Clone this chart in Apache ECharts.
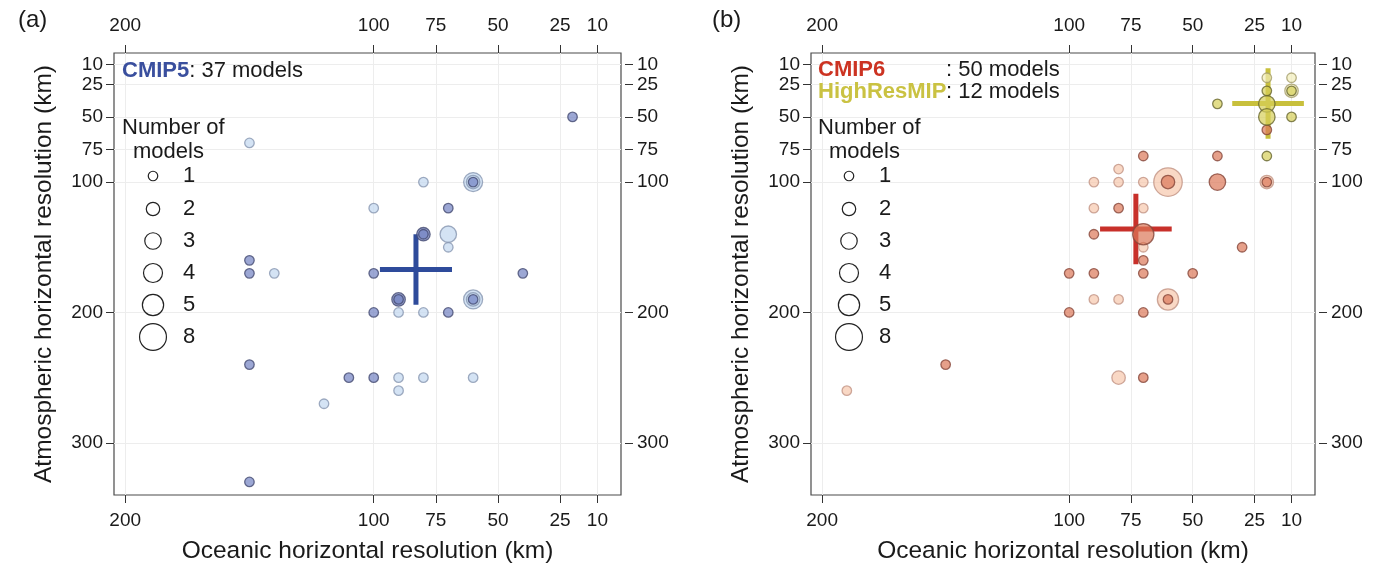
<!DOCTYPE html>
<html>
<head>
<meta charset="utf-8">
<script src="https://cdn.jsdelivr.net/npm/echarts@6/dist/echarts.min.js"></script>
<style>
  html, body { margin: 0; padding: 0; background: #fff; }
  #chart { width: 1389px; height: 565px; }
</style>
</head>
<body>
<div id="chart"></div>
<script>
// tick values (km)
const oceanTicks = [200, 100, 75, 50, 25, 10]
const atmosTicks = [10, 25, 50, 75, 100, 200, 300]

// [ocean km, atmos km, number of models]
const cmip5Light = [
  [150, 70, 1], [80, 100, 1], [60, 100, 4], [60, 100, 2], [100, 120, 1], [70, 140, 3],
  [70, 150, 1], [140, 170, 1], [60, 190, 4], [60, 190, 2], [90, 200, 1], [80, 200, 1],
  [90, 250, 1], [80, 250, 1], [60, 250, 1], [90, 260, 1], [120, 270, 1]
]
const cmip5Dark = [
  [20, 50, 1], [60, 100, 1], [70, 120, 1], [80, 140, 2], [80, 140, 1], [150, 160, 1],
  [150, 170, 1], [100, 170, 1], [40, 170, 1], [90, 190, 2], [90, 190, 1], [60, 190, 1],
  [100, 200, 1], [70, 200, 1], [150, 240, 1], [110, 250, 1], [100, 250, 1], [150, 330, 1]
]
const cmip6Light = [
  [80, 90, 1], [90, 100, 1], [80, 100, 1], [70, 100, 1], [60, 100, 9], [90, 120, 1],
  [70, 120, 1], [70, 150, 1], [90, 190, 1], [80, 190, 1], [60, 190, 5], [190, 260, 1],
  [80, 250, 2], [20, 100, 2]
]
const cmip6Dark = [
  [70, 80, 1], [40, 80, 1], [60, 100, 2], [40, 100, 3], [80, 120, 1], [90, 140, 1],
  [70, 140, 5], [70, 160, 1], [30, 150, 1], [100, 170, 1], [90, 170, 1], [70, 170, 1],
  [50, 170, 1], [60, 190, 1], [100, 200, 1], [70, 200, 1], [150, 240, 1], [70, 250, 1],
  [20, 60, 1], [20, 100, 1]
]
const hrmipYellow = [
  [20, 30, 1], [40, 40, 1], [20, 40, 3], [20, 50, 3], [10, 50, 1], [20, 80, 1], [10, 30, 1]
]
const hrmipPale = [[20, 20, 1], [10, 20, 1], [10, 30, 2]]

// ensemble centre and cross half-lengths [ocean, atmos]
const cmip5Centre = [83, 167]
const cmip6Centre = [73, 136]
const hrmipCentre = [19.5, 39.7]
const crossHalf = [14.5, 27]

const legendCounts = [1, 2, 3, 4, 5, 8]

const symSize = n => 9.5 * Math.sqrt(n)

const myChart = echarts.init(document.getElementById('chart'))

const FONT = '"Liberation Sans", Arial, sans-serif'
const grids = [
  { left: 114, top: 53, width: 507, height: 442 },
  { left: 811, top: 53, width: 504, height: 442 }
]

const xAxes = []
const yAxes = []
grids.forEach((g, i) => {
  const base = {
    type: 'value', gridIndex: i, inverse: true, min: 0.5, max: 204.5,
    axisLine: { show: false },
    axisTick: { show: true, customValues: oceanTicks, length: 8, lineStyle: { color: '#333', width: 1 } },
    axisLabel: { customValues: oceanTicks, fontSize: 19, color: '#1a1a1a', fontFamily: FONT }
  }
  xAxes.push(Object.assign({}, base, {
    position: 'bottom',
    axisLabel: Object.assign({}, base.axisLabel, { margin: 16 }),
    splitLine: { show: true, lineStyle: { color: '#ededed', width: 1 } },
    name: 'Oceanic horizontal resolution (km)',
    nameLocation: 'middle',
    nameGap: 44,
    nameTextStyle: { fontSize: 24.5, color: '#1a1a1a', fontFamily: FONT }
  }))
  xAxes.push(Object.assign({}, base, {
    position: 'top',
    axisLabel: Object.assign({}, base.axisLabel, { margin: 18 }),
    splitLine: { show: false }
  }))
  const ybase = {
    type: 'value', gridIndex: i, inverse: true, min: 1, max: 340,
    axisLine: { show: false },
    axisTick: { show: true, customValues: atmosTicks, length: 8, lineStyle: { color: '#333', width: 1 } },
    axisLabel: { customValues: atmosTicks, fontSize: 19, color: '#1a1a1a', fontFamily: FONT }
  }
  yAxes.push(Object.assign({}, ybase, {
    position: 'left',
    axisLabel: Object.assign({}, ybase.axisLabel, { margin: 11 }),
    splitLine: { show: true, lineStyle: { color: '#ededed', width: 1 } },
    name: 'Atmospheric horizontal resolution (km)',
    nameLocation: 'middle',
    nameGap: 57,
    nameTextStyle: { fontSize: 24.5, color: '#1a1a1a', fontFamily: FONT }
  }))
  yAxes.push(Object.assign({}, ybase, {
    position: 'right', offset: 4,
    axisLabel: Object.assign({}, ybase.axisLabel, { margin: 12 }),
    splitLine: { show: false }
  }))
})

function bubbles(data, gi, fill, border) {
  return {
    type: 'scatter',
    xAxisIndex: gi * 2,
    yAxisIndex: gi * 2,
    z: 3,
    data: data.slice().sort((a, b) => b[2] - a[2]),
    symbolSize: v => symSize(v[2]),
    itemStyle: { color: fill, borderColor: border, borderWidth: 1.3 },
    emphasis: { disabled: true }
  }
}

function cross(c, gi, color) {
  const seg = (d) => ({
    type: 'line', xAxisIndex: gi * 2, yAxisIndex: gi * 2, z: 2,
    data: d, symbol: 'none', silent: true,
    lineStyle: { color: color, width: 5, cap: 'butt' }
  })
  return [
    seg([[c[0] + crossHalf[0], c[1]], [c[0] - crossHalf[0], c[1]]]),
    seg([[c[0], c[1] - crossHalf[1]], [c[0], c[1] + crossHalf[1]]])
  ]
}

function sizeLegend(left, top) {
  const f = '22px ' + FONT
  const children = [
    { type: 'text', x: 0, y: 0, z: 100, style: { text: 'Number of', font: f, fill: '#1a1a1a' } },
    { type: 'text', x: 11, y: 24, z: 100, style: { text: 'models', font: f, fill: '#1a1a1a' } }
  ]
  const rowY = [59, 92, 124, 156, 188, 220]
  legendCounts.forEach((n, k) => {
    children.push({
      type: 'circle', z: 100,
      shape: { cx: 31, cy: rowY[k], r: symSize(n) / 2 },
      style: { fill: 'none', stroke: '#222', lineWidth: 1.2 }
    })
    children.push({
      type: 'text', x: 61, y: rowY[k], z: 100,
      style: { text: String(n), font: f, fill: '#1a1a1a', verticalAlign: 'middle' }
    })
  })
  return { type: 'group', x: left, y: top, z: 100, children: children }
}

const f22 = '22px ' + FONT
const b22 = 'bold 22px ' + FONT
const option = {
  backgroundColor: '#fff',
  animation: false,
  grid: grids.map(g => Object.assign({
    show: true, borderColor: '#4a4a4a', borderWidth: 1.2, backgroundColor: 'transparent',
    containLabel: false, outerBoundsMode: 'none'
  }, g)),
  xAxis: xAxes,
  yAxis: yAxes,
  graphic: [
    { type: 'text', left: 18, top: 8, z: 100, style: { text: '(a)', font: '24px ' + FONT, fill: '#1a1a1a' } },
    { type: 'text', left: 712, top: 8, z: 100, style: { text: '(b)', font: '24px ' + FONT, fill: '#1a1a1a' } },
    {
      type: 'text', left: 122, top: 60, z: 100,
      style: {
        text: '{b|CMIP5}{n|: 37 models}',
        rich: {
          b: { font: b22, fill: '#3a4f9e' },
          n: { font: f22, fill: '#1a1a1a' }
        }
      }
    },
    { type: 'text', left: 818, top: 59, z: 100, style: { text: 'CMIP6', font: b22, fill: '#cc3322' } },
    { type: 'text', left: 818, top: 81, z: 100, style: { text: 'HighResMIP', font: b22, fill: '#cac242' } },
    { type: 'text', left: 946, top: 59, z: 100, style: { text: ': 50 models', font: f22, fill: '#1a1a1a' } },
    { type: 'text', left: 946, top: 81, z: 100, style: { text: ': 12 models', font: f22, fill: '#1a1a1a' } },
    sizeLegend(122, 117),
    sizeLegend(818, 117)
  ],
  series: [
    ...cross(cmip5Centre, 0, '#2e4b9b'),
    bubbles(cmip5Light, 0, 'rgba(196,216,240,0.9)', '#8796b0'),
    bubbles(cmip5Dark, 0, 'rgba(114,130,194,0.88)', '#434a70'),
    ...cross(cmip6Centre, 1, '#c8302a'),
    ...cross(hrmipCentre, 1, '#c8c03c'),
    bubbles(cmip6Light, 1, 'rgba(246,198,170,0.85)', '#c29484'),
    bubbles(cmip6Dark, 1, 'rgba(220,120,88,0.88)', '#86463a'),
    bubbles(hrmipPale, 1, 'rgba(242,238,184,0.85)', '#a49c6a'),
    bubbles(hrmipYellow, 1, 'rgba(214,206,88,0.88)', '#66652e')
  ]
}

myChart.setOption(option)
window.addEventListener('resize', () => {
  myChart.resize()
}, false)
</script>
</body>
</html>
